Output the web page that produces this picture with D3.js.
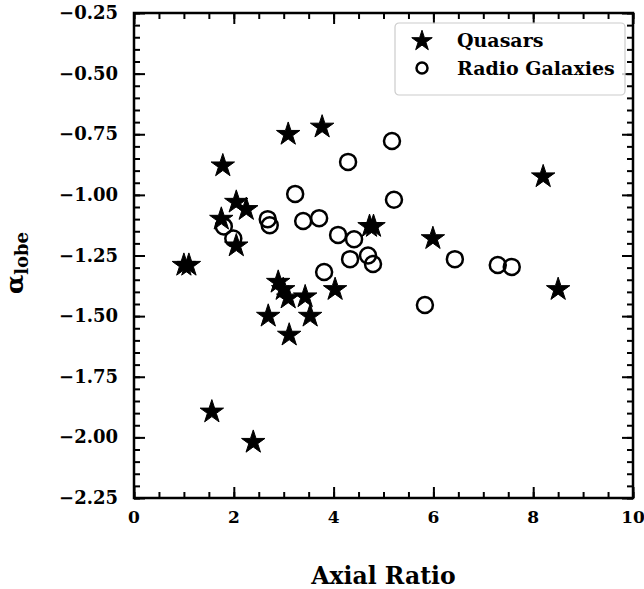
<!DOCTYPE html>
<html>
<head>
<meta charset="utf-8">
<script src="https://cdn.jsdelivr.net/npm/d3@7"></script>
<style>
  body { margin: 0; background: #fff; }
  text { font-family: "DejaVu Serif", serif; font-weight: bold; }
</style>
</head>
<body>
<script>
// quasars: axial ratio vs lobe spectral index
const quasarX = [1.0, 1.1, 1.78, 3.09, 3.77, 1.75, 2.05, 2.25, 2.05, 4.72, 4.8, 8.2, 5.99,
                 2.89, 2.99, 3.09, 3.43, 4.03, 2.69, 3.53, 3.11, 1.56, 2.39, 8.5];
const quasarY = [-1.29, -1.29, -0.88, -0.75, -0.72, -1.10, -1.03, -1.06, -1.21, -1.13, -1.13, -0.925, -1.18,
                 -1.36, -1.39, -1.425, -1.42, -1.39, -1.50, -1.50, -1.578, -1.895, -2.02, -1.39];
// radio galaxies
const galaxyX = [4.29, 3.23, 3.39, 3.71, 4.09, 4.41, 2.68, 2.72, 1.8, 1.99, 4.33, 4.69,
                 5.17, 5.21, 6.43, 7.29, 7.57, 5.83, 4.79, 3.81];
const galaxyY = [-0.864, -0.996, -1.108, -1.096, -1.165, -1.183, -1.10, -1.125, -1.13, -1.18, -1.265, -1.25,
                 -0.778, -1.02, -1.265, -1.289, -1.297, -1.454, -1.285, -1.318];

const xTicks = [0, 2, 4, 6, 8, 10];
const yTicks = [-2.25, -2.0, -1.75, -1.5, -1.25, -1.0, -0.75, -0.5, -0.25];
const legendLabels = ["Quasars", "Radio Galaxies"];

const w = 644, h = 589;
const m = {left: 134, right: 11, top: 13, bottom: 91};

const svg = d3.select("body").append("svg")
  .attr("width", w)
  .attr("height", h);

const x = d3.scaleLinear().domain([0, 10]).range([m.left, w - m.right]);
const y = d3.scaleLinear().domain([-2.25, -0.25]).range([h - m.bottom, m.top]);

const minorX = d3.range(0, 10.001, 0.5);
const minorY = d3.range(-2.25, -0.2499, 0.05);

function styleAxis(g) {
  g.select(".domain").remove();
  g.selectAll("line").attr("stroke", "#000").attr("stroke-width", 2);
}

// minor ticks (inward on all sides)
svg.append("g").attr("transform", `translate(0,${y(-2.25)})`)
  .call(d3.axisTop(x).tickValues(minorX).tickSize(6).tickFormat(""))
  .call(styleAxis);
svg.append("g").attr("transform", `translate(0,${y(-0.25)})`)
  .call(d3.axisBottom(x).tickValues(minorX).tickSize(6).tickFormat(""))
  .call(styleAxis);
svg.append("g").attr("transform", `translate(${x(0)},0)`)
  .call(d3.axisRight(y).tickValues(minorY).tickSize(6).tickFormat(""))
  .call(styleAxis);
svg.append("g").attr("transform", `translate(${x(10)},0)`)
  .call(d3.axisLeft(y).tickValues(minorY).tickSize(6).tickFormat(""))
  .call(styleAxis);

// major ticks
svg.append("g").attr("transform", `translate(0,${y(-2.25)})`)
  .call(d3.axisTop(x).tickValues(xTicks).tickSize(11).tickFormat(""))
  .call(styleAxis);
svg.append("g").attr("transform", `translate(0,${y(-0.25)})`)
  .call(d3.axisBottom(x).tickValues(xTicks).tickSize(11).tickFormat(""))
  .call(styleAxis);
svg.append("g").attr("transform", `translate(${x(0)},0)`)
  .call(d3.axisRight(y).tickValues(yTicks).tickSize(11).tickFormat(""))
  .call(styleAxis);
svg.append("g").attr("transform", `translate(${x(10)},0)`)
  .call(d3.axisLeft(y).tickValues(yTicks).tickSize(11).tickFormat(""))
  .call(styleAxis);

// tick labels
const fmtY = d => d3.format(".2f")(d).replace("-", "\u2212");
svg.append("g").selectAll("text").data(xTicks).enter().append("text")
  .attr("x", d => x(d))
  .attr("y", y(-2.25) + 25)
  .attr("text-anchor", "middle")
  .attr("font-size", 17)
  .text(d => d);
svg.append("g").selectAll("text").data(yTicks).enter().append("text")
  .attr("x", x(0) - 16)
  .attr("y", d => y(d) + 6)
  .attr("text-anchor", "end")
  .attr("font-size", 18)
  .text(fmtY);

// frame
svg.append("rect")
  .attr("x", x(0)).attr("y", y(-0.25))
  .attr("width", x(10) - x(0)).attr("height", y(-2.25) - y(-0.25))
  .attr("fill", "none").attr("stroke", "#000").attr("stroke-width", 2.5);

// axis labels
svg.append("text")
  .attr("x", (x(0) + x(10)) / 2)
  .attr("y", 584)
  .attr("text-anchor", "middle")
  .attr("font-size", 23.5)
  .text("Axial Ratio");

const yl = svg.append("text")
  .attr("transform", "translate(23,263) rotate(-90)")
  .attr("text-anchor", "middle")
  .attr("font-size", 25);
yl.append("tspan").text("\u03b1");
yl.append("tspan").attr("font-size", 18).attr("dy", 5).text("lobe");

// points
const star = d3.symbol().type(d3.symbolStar).size(170);
const quasars = quasarX.map((v, i) => [v, quasarY[i]]);
const galaxies = galaxyX.map((v, i) => [v, galaxyY[i]]);

svg.append("g").selectAll("circle").data(galaxies).enter().append("circle")
  .attr("cx", d => x(d[0]))
  .attr("cy", d => y(d[1]))
  .attr("r", 8)
  .attr("fill", "none")
  .attr("stroke", "#000")
  .attr("stroke-width", 2.5);

svg.append("g").selectAll("path").data(quasars).enter().append("path")
  .attr("transform", d => `translate(${x(d[0])},${y(d[1])})`)
  .attr("d", star)
  .attr("fill", "#000")
  .attr("stroke", "#000")
  .attr("stroke-width", 1);

// legend
const lg = svg.append("g").attr("transform", "translate(395,23)");
lg.append("rect")
  .attr("width", 230).attr("height", 72).attr("rx", 4)
  .attr("fill", "#fff").attr("fill-opacity", 0.8)
  .attr("stroke", "#ccc").attr("stroke-width", 1.2);
lg.append("path")
  .attr("transform", "translate(27,18)")
  .attr("d", d3.symbol().type(d3.symbolStar).size(130)).attr("fill", "#000").attr("stroke", "#000");
lg.append("circle")
  .attr("cx", 27).attr("cy", 45).attr("r", 5.5)
  .attr("fill", "none").attr("stroke", "#000").attr("stroke-width", 2.5);
lg.selectAll("text.lab").data(legendLabels).enter().append("text")
  .attr("class", "lab")
  .attr("x", 62)
  .attr("y", (d, i) => 24 + i * 28)
  .attr("font-size", 19)
  .text(d => d);
</script>
</body>
</html>
